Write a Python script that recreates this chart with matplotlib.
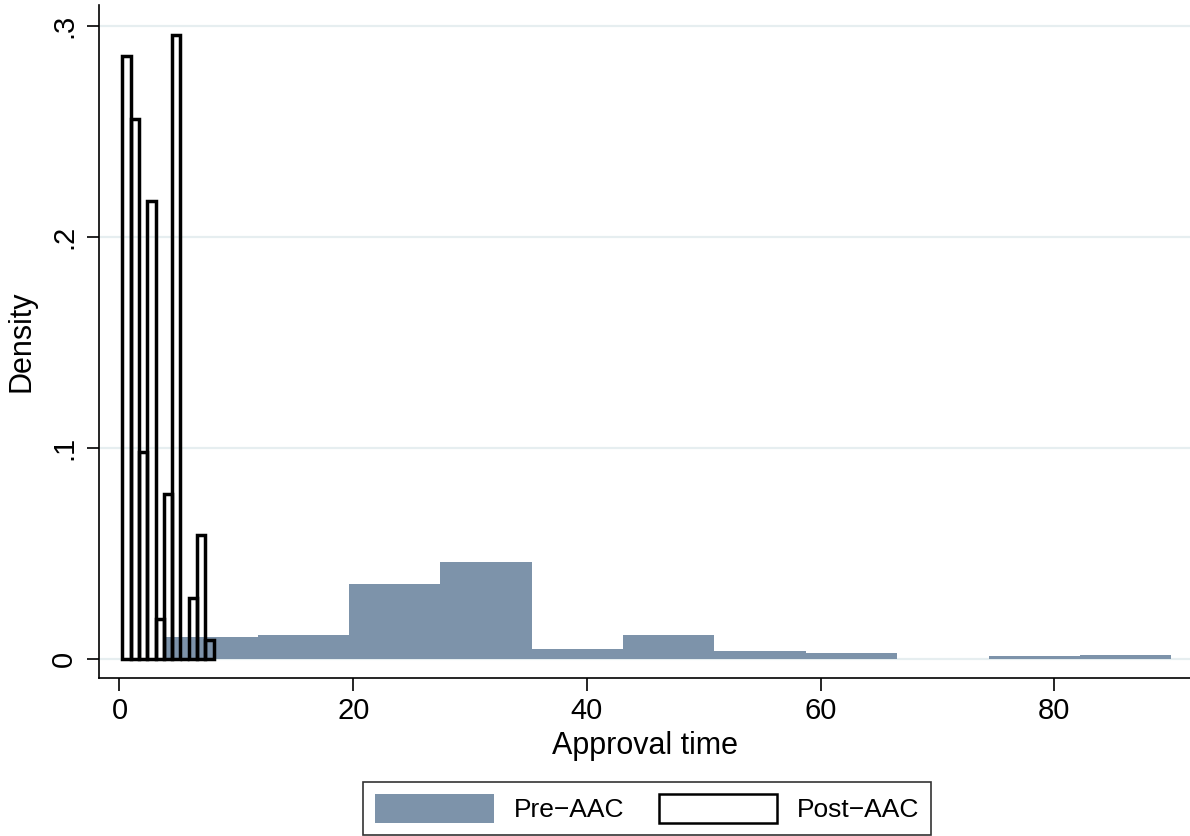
import matplotlib
matplotlib.use("Agg")
import matplotlib.pyplot as plt
from matplotlib.patches import Patch

plt.rcParams["font.family"] = ["Liberation Sans", "DejaVu Sans"]

# Pre-AAC histogram: bin left edges (approval time) and densities
pre_left = [4.0, 11.82, 19.64, 27.45, 35.27, 43.09, 50.91, 58.73, 66.55, 74.36, 82.18]
pre_width = 7.82
pre_density = [0.0103, 0.0112, 0.0355, 0.0458, 0.0047, 0.0112, 0.0037, 0.0028, 0.0, 0.0013, 0.0019]

# Post-AAC histogram
post_left = [0.25, 0.96, 1.67, 2.38, 3.09, 3.80, 4.51, 5.22, 5.93, 6.64, 7.35]
post_width = 0.71
post_density = [0.286, 0.256, 0.098, 0.217, 0.019, 0.078, 0.296, 0.0, 0.029, 0.059, 0.009]

xticks = [0, 20, 40, 60, 80]
yticks = [0, 0.1, 0.2, 0.3]
ytick_labels = ["0", ".1", ".2", ".3"]

PRE_COLOR = "#7d93aa"
GRID = "#e6eef0"

fig = plt.figure(figsize=(11.9, 8.36), dpi=100)
ax = fig.add_axes([0.0832, 0.189, 0.9168, 0.805])

for y in yticks:
    ax.axhline(y, color=GRID, lw=1.6, zorder=0)

ax.bar(pre_left, pre_density, pre_width, align="edge", color=PRE_COLOR,
       linewidth=0, zorder=2)
# post bars are outlines only (no fill), as in the original
ax.bar(post_left, post_density, post_width, align="edge", facecolor="none",
       edgecolor="black", linewidth=2.5, zorder=3)

ax.set_xlim(-1.75, 91.6)
ax.set_ylim(-0.009, 0.31)
ax.set_xticks(xticks)
ax.set_yticks(yticks)
ax.set_yticklabels(ytick_labels, rotation=90, va="center")
ax.tick_params(axis="both", length=9, width=1.2, labelsize=21, direction="out")
ax.tick_params(axis="y", pad=6)
ax.tick_params(axis="x", pad=5)
ax.set_xlabel("Approval time", fontsize=22, labelpad=4)
ax.set_ylabel("Density", fontsize=22, labelpad=10)
ax.spines["top"].set_visible(False)
ax.spines["right"].set_visible(False)
for s in ("left", "bottom"):
    ax.spines[s].set_linewidth(1.2)

handles = [Patch(facecolor=PRE_COLOR, edgecolor=PRE_COLOR, linewidth=0),
           Patch(facecolor="white", edgecolor="black", linewidth=1.8)]
leg = fig.legend(handles, ["Pre\u2212AAC", "Post\u2212AAC"], ncol=2,
                 loc="upper center", bbox_to_anchor=(0.544, 0.0646),
                 borderaxespad=0, fontsize=19, frameon=True, fancybox=False,
                 edgecolor="black", handlelength=4.5, handleheight=1.35,
                 handletextpad=0.75, columnspacing=1.3, borderpad=0.45)
leg.get_frame().set_linewidth(1.2)

fig.savefig("out.png", dpi=100)
